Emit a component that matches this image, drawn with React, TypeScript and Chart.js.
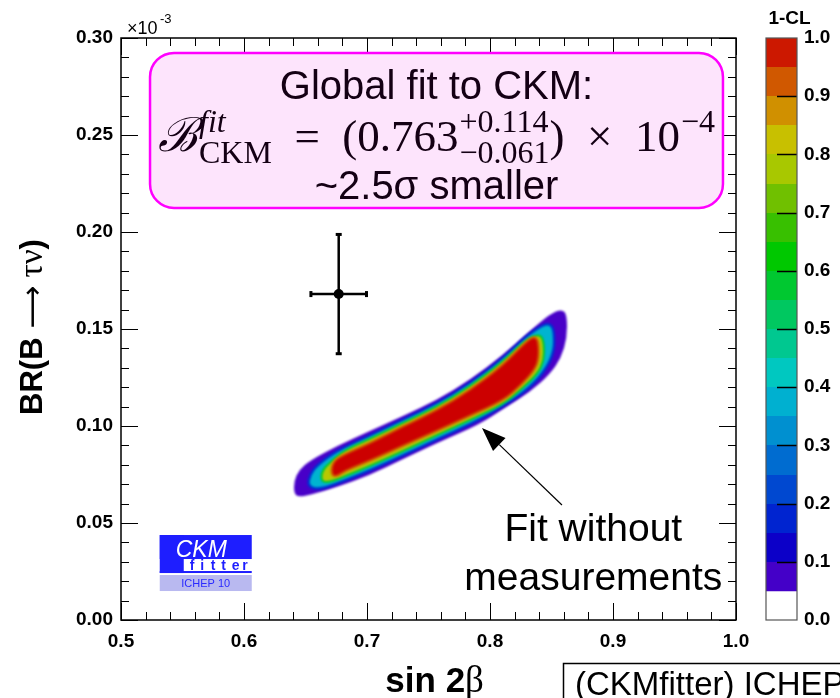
import { useEffect, useRef } from 'react';
import { Chart, registerables } from 'chart.js';

Chart.register(...registerables);

// ---------------- data ----------------
const xMajorTicks = [0.5, 0.6, 0.7, 0.8, 0.9, 1.0];
const yMajorTicks = [0.0, 0.05, 0.1, 0.15, 0.2, 0.25, 0.3];
const colorbarTicks = [0.0, 0.1, 0.2, 0.3, 0.4, 0.5, 0.6, 0.7, 0.8, 0.9, 1.0];

// measurement: sin2beta and BR(B -> tau nu) (x 1e-3)
const measSin2b = [0.677];
const measSin2bErr = [0.023];
const measBR = [0.168];
const measBRErr = [0.031];

// 1-CL contours of the fit without measurements (sin2beta, BR x 1e-3)
const cl005X = [0.6407, 0.6407, 0.6447, 0.6537, 0.6756, 0.7024, 0.7293, 0.7569, 0.7837, 0.8106, 0.8325, 0.8488, 0.8585, 0.8626, 0.8626, 0.8577, 0.8488, 0.8325, 0.8106, 0.7919, 0.7569, 0.7293, 0.7024, 0.6756, 0.6537, 0.6439];
const cl005Y = [0.0655, 0.0716, 0.0773, 0.0822, 0.0897, 0.0974, 0.1051, 0.1134, 0.1237, 0.1366, 0.1490, 0.1577, 0.1603, 0.1572, 0.1454, 0.1351, 0.1268, 0.1175, 0.1088, 0.1010, 0.0912, 0.0830, 0.0747, 0.0686, 0.0644, 0.0634];

const cl030X = [0.6528, 0.6545, 0.6602, 0.6756, 0.7024, 0.7293, 0.7569, 0.7837, 0.8106, 0.8301, 0.8447, 0.8496, 0.8512, 0.8512, 0.8455, 0.8325, 0.8106, 0.7837, 0.7569, 0.7293, 0.7024, 0.6780, 0.6618];
const cl030Y = [0.0691, 0.0747, 0.0794, 0.0866, 0.0943, 0.1026, 0.1108, 0.1211, 0.1340, 0.1459, 0.1521, 0.1515, 0.1474, 0.1392, 0.1304, 0.1206, 0.1108, 0.1015, 0.0938, 0.0856, 0.0778, 0.0716, 0.0680];

const cl070X = [0.6634, 0.6642, 0.6707, 0.6821, 0.7024, 0.7293, 0.7569, 0.7837, 0.8106, 0.8276, 0.8374, 0.8415, 0.8431, 0.8431, 0.8382, 0.8244, 0.8106, 0.7837, 0.7569, 0.7293, 0.7024, 0.6821, 0.6699];
const cl070Y = [0.0716, 0.0768, 0.0809, 0.0871, 0.0928, 0.1010, 0.1093, 0.1196, 0.1325, 0.1428, 0.1464, 0.1459, 0.1418, 0.1340, 0.1273, 0.1191, 0.1119, 0.1036, 0.0959, 0.0876, 0.0799, 0.0747, 0.0716];

const cl095X = [0.6715, 0.6724, 0.6797, 0.7024, 0.7293, 0.7569, 0.7837, 0.8106, 0.8301, 0.8366, 0.8390, 0.8390, 0.8350, 0.8244, 0.8106, 0.7837, 0.7569, 0.7293, 0.7024, 0.6821, 0.6748];
const cl095Y = [0.0753, 0.0809, 0.0845, 0.0907, 0.0995, 0.1077, 0.1180, 0.1309, 0.1436, 0.1459, 0.1428, 0.1340, 0.1284, 0.1211, 0.1134, 0.1057, 0.0979, 0.0902, 0.0825, 0.0773, 0.0742];

// colour palette of 1-CL (lower edge of each band)
const paletteLevels = [0.05, 0.1, 0.15, 0.2, 0.25, 0.3, 0.35, 0.4, 0.45, 0.5, 0.55, 0.6, 0.65, 0.7, 0.75, 0.8, 0.85, 0.9, 0.95];
const paletteColors = ['#4400c8', '#0c00c8', '#0024d0', '#0048d0', '#006cd0', '#0090d0', '#00b0d0', '#00c8c0', '#00c890', '#00c860', '#00c830', '#00c800', '#38c000', '#70c000', '#a8c800', '#c8c000', '#d09000', '#d05800', '#cc1800'];

// ---------------- helpers ----------------
const SANS = "'Liberation Sans', Arial, Helvetica, sans-serif";
const SERIF = "'Liberation Serif', 'DejaVu Serif', serif";
const sansBold = (size: number) => ({ family: SANS, size, weight: 'bold' as const });

function smoothPath(ctx: CanvasRenderingContext2D, pts: number[][]) {
  const n = pts.length;
  const mid = (a: number[], b: number[]) => [(a[0] + b[0]) / 2, (a[1] + b[1]) / 2];
  ctx.beginPath();
  const m0 = mid(pts[n - 1], pts[0]);
  ctx.moveTo(m0[0], m0[1]);
  for (let i = 0; i < n; i++) {
    const p = pts[i];
    const m = mid(p, pts[(i + 1) % n]);
    ctx.quadraticCurveTo(p[0], p[1], m[0], m[1]);
  }
  ctx.closePath();
}

const contourPlugin = {
  id: 'contour',
  beforeDatasetsDraw(chart: any) {
    const { ctx, chartArea, scales } = chart;
    const { x, y } = scales;
    const toPx = (xs: number[], ys: number[]) => xs.map((v, i) => [x.getPixelForValue(v), y.getPixelForValue(ys[i])]);
    const o = toPx(cl005X, cl005Y);
    const l2 = toPx(cl030X, cl030Y);
    const l3 = toPx(cl070X, cl070Y);
    const r = toPx(cl095X, cl095Y);
    ctx.save();
    ctx.beginPath();
    ctx.rect(chartArea.left, chartArea.top, chartArea.right - chartArea.left, chartArea.bottom - chartArea.top);
    ctx.clip();
    ctx.filter = 'blur(0.8px)';
    ctx.lineJoin = 'round';
    smoothPath(ctx, o); ctx.fillStyle = '#4800c8'; ctx.fill();
    smoothPath(ctx, l2); ctx.strokeStyle = '#0030d0'; ctx.lineWidth = 5; ctx.stroke();
    ctx.fillStyle = '#00b4d0'; ctx.fill();
    smoothPath(ctx, l3); ctx.strokeStyle = '#00c830'; ctx.lineWidth = 4; ctx.stroke();
    ctx.fillStyle = '#b8c800'; ctx.fill();
    smoothPath(ctx, r); ctx.strokeStyle = '#d07000'; ctx.lineWidth = 4; ctx.stroke();
    ctx.fillStyle = '#cc0000'; ctx.fill();
    ctx.restore();
  },
};

const errorPlugin = {
  id: 'errbars',
  beforeDatasetsDraw(chart: any) {
    const { ctx, scales } = chart;
    const { x, y } = scales;
    ctx.save();
    ctx.strokeStyle = '#000';
    ctx.fillStyle = '#000';
    ctx.lineWidth = 2.5;
    measSin2b.forEach((xv, i) => {
      const px = x.getPixelForValue(xv);
      const py = y.getPixelForValue(measBR[i]);
      const x1 = x.getPixelForValue(xv - measSin2bErr[i]);
      const x2 = x.getPixelForValue(xv + measSin2bErr[i]);
      const y1 = y.getPixelForValue(measBR[i] + measBRErr[i]);
      const y2 = y.getPixelForValue(measBR[i] - measBRErr[i]);
      ctx.beginPath();
      ctx.moveTo(x1, py); ctx.lineTo(x2, py);
      ctx.moveTo(px, y1); ctx.lineTo(px, y2);
      ctx.stroke();
      ctx.fillRect(x1 - 1, py - 3, 3, 6);
      ctx.fillRect(x2 - 2, py - 3, 3, 6);
      ctx.fillRect(px - 3, y1 - 1, 6, 3);
      ctx.fillRect(px - 3, y2 - 2, 6, 3);
    });
    ctx.restore();
  },
};

function subdivide(major: number[], n: number) {
  const out: number[] = [];
  for (let i = 0; i < major.length - 1; i++) {
    for (let k = 1; k < n; k++) out.push(major[i] + ((major[i + 1] - major[i]) * k) / n);
  }
  return out;
}

const framePlugin = {
  id: 'frame',
  afterDatasetsDraw(chart: any) {
    const { ctx, chartArea, scales } = chart;
    const { left, right, top, bottom } = chartArea;
    const { x, y } = scales;
    ctx.save();
    ctx.strokeStyle = '#000';
    ctx.lineWidth = 1;
    const majL = 17, minL = 8;
    ctx.beginPath();
    const xt = (v: number, len: number) => {
      const p = Math.round(x.getPixelForValue(v)) + 0.5;
      ctx.moveTo(p, bottom); ctx.lineTo(p, bottom - len);
      ctx.moveTo(p, top); ctx.lineTo(p, top + len);
    };
    const yt = (v: number, len: number) => {
      const p = Math.round(y.getPixelForValue(v)) + 0.5;
      ctx.moveTo(left, p); ctx.lineTo(left + len, p);
      ctx.moveTo(right, p); ctx.lineTo(right - len, p);
    };
    xMajorTicks.forEach((v) => xt(v, majL));
    subdivide(xMajorTicks, 5).forEach((v) => xt(v, minL));
    yMajorTicks.forEach((v) => yt(v, majL));
    subdivide(yMajorTicks, 5).forEach((v) => yt(v, minL));
    ctx.stroke();
    ctx.lineWidth = 1.5;
    ctx.strokeRect(left, top, right - left, bottom - top);
    ctx.restore();
  },
};

function drawMath(ctx: CanvasRenderingContext2D, cx: number, base: number) {
  const big = 45, small = 32;
  const F = (s: number, it = false) => `${it ? 'italic ' : ''}${s}px ${SERIF}`;
  type P = { t?: string; f?: string; sup?: string; sub?: string; fs?: string; fb?: string; gap?: number };
  const pieces: P[] = [
    { t: 'ℬ', f: F(big + 2, true) },
    { sup: 'fit', sub: 'CKM', fs: F(small, true), fb: F(small), gap: 2 },
    { t: '  =  ', f: F(big) },
    { t: '(0.763', f: F(big) },
    { sup: '+0.114', sub: '−0.061', fs: F(small), fb: F(small), gap: 1 },
    { t: ')  ×  10', f: F(big) },
    { sup: '−4', fs: F(small), gap: 1 },
  ];
  const widths = pieces.map((p) => {
    if (p.t) { ctx.font = p.f!; return ctx.measureText(p.t).width; }
    let w = 0;
    if (p.sup) { ctx.font = p.fs!; w = Math.max(w, ctx.measureText(p.sup).width); }
    if (p.sub) { ctx.font = p.fb!; w = Math.max(w, ctx.measureText(p.sub).width); }
    return w + (p.gap || 0);
  });
  const total = widths.reduce((a, b) => a + b, 0);
  let xpos = cx - total / 2;
  ctx.textAlign = 'left';
  ctx.textBaseline = 'alphabetic';
  pieces.forEach((p, i) => {
    if (p.t) { ctx.font = p.f!; ctx.fillText(p.t, xpos, base); }
    else {
      const g = p.gap || 0;
      if (p.sup) { ctx.font = p.fs!; ctx.fillText(p.sup, xpos + g, base - 19); }
      if (p.sub) { ctx.font = p.fb!; ctx.fillText(p.sub, xpos + g, base + 12); }
    }
    xpos += widths[i];
  });
}

function drawPieces(ctx: CanvasRenderingContext2D, pieces: { t: string; f: string }[], cx: number, base: number) {
  const ws = pieces.map((p) => { ctx.font = p.f; return ctx.measureText(p.t).width; });
  let xp = cx - ws.reduce((a, b) => a + b, 0) / 2;
  ctx.textAlign = 'left';
  ctx.textBaseline = 'alphabetic';
  pieces.forEach((p, i) => { ctx.font = p.f; ctx.fillText(p.t, xp, base); xp += ws[i]; });
}

const annotPlugin = {
  id: 'annot',
  afterDraw(chart: any) {
    const { ctx, scales, chartArea } = chart;
    const { x, y } = scales;
    ctx.save();
    ctx.fillStyle = '#000';

    // axis titles
    drawPieces(ctx, [
      { t: 'sin 2', f: `bold 35px ${SANS}` },
      { t: 'β', f: `37px ${SERIF}` },
    ], x.getPixelForValue(0.755), 692);
    ctx.save();
    ctx.translate(42, (chartArea.top + chartArea.bottom) / 2 - 2);
    ctx.rotate(-Math.PI / 2);
    drawPieces(ctx, [
      { t: 'BR(B ', f: `bold 31px ${SANS}` },
      { t: '⟶', f: `30px 'DejaVu Sans', sans-serif` },
      { t: ' τν', f: `33px ${SERIF}` },
      { t: ')', f: `bold 31px ${SANS}` },
    ], 0, 0);
    ctx.restore();

    // x10^-3
    ctx.textAlign = 'left';
    ctx.font = `18px ${SANS}`;
    ctx.fillText('×10', 127, 34);
    ctx.font = `13px ${SANS}`;
    ctx.fillText('-3', 160, 23);

    // pink box
    const bx1 = x.getPixelForValue(0.5236), bx2 = x.getPixelForValue(0.9894);
    const by1 = y.getPixelForValue(0.2923), by2 = y.getPixelForValue(0.2124);
    ctx.beginPath();
    (ctx as any).roundRect(bx1, by1, bx2 - bx1, by2 - by1, 24);
    ctx.fillStyle = '#fde4fc';
    ctx.fill();
    ctx.strokeStyle = '#ff00ff';
    ctx.lineWidth = 2.5;
    ctx.stroke();
    const cx = (bx1 + bx2) / 2;
    ctx.fillStyle = '#140014';
    ctx.textAlign = 'center';
    ctx.font = `40px ${SANS}`;
    ctx.fillText('Global fit to CKM:', cx, by1 + 46);
    ctx.fillText('~2.5σ smaller', cx, by2 - 9);
    drawMath(ctx, cx, by1 + 98);

    // arrow
    const ax1 = x.getPixelForValue(0.8585), ay1 = y.getPixelForValue(0.0593);
    const ax2 = x.getPixelForValue(0.7935), ay2 = y.getPixelForValue(0.099);
    const ang = Math.atan2(ay2 - ay1, ax2 - ax1);
    const hl = 24, hw = 9;
    const bxh = ax2 - hl * Math.cos(ang), byh = ay2 - hl * Math.sin(ang);
    ctx.strokeStyle = '#000';
    ctx.lineWidth = 1.2;
    ctx.beginPath(); ctx.moveTo(ax1, ay1); ctx.lineTo(bxh, byh); ctx.stroke();
    ctx.beginPath();
    ctx.moveTo(ax2, ay2);
    ctx.lineTo(bxh + hw * Math.sin(ang), byh - hw * Math.cos(ang));
    ctx.lineTo(bxh - hw * Math.sin(ang), byh + hw * Math.cos(ang));
    ctx.closePath();
    ctx.fillStyle = '#000';
    ctx.fill();

    // fit label
    ctx.font = `39px ${SANS}`;
    ctx.textAlign = 'center';
    const tx = x.getPixelForValue(0.884);
    ctx.fillText('Fit without', tx, y.getPixelForValue(0.0405));
    ctx.fillText('measurements', tx, y.getPixelForValue(0.0153));

    // CKMfitter logo
    const lx = x.getPixelForValue(0.5315), ly = y.getPixelForValue(0.0438);
    ctx.fillStyle = '#1e1eff';
    ctx.fillRect(lx, ly, 92, 24);
    ctx.fillRect(lx, ly, 24, 38);
    ctx.fillRect(lx, ly + 36, 92, 2);
    ctx.fillStyle = '#fff';
    ctx.font = `italic 23px ${SANS}`;
    ctx.textAlign = 'left';
    ctx.fillText('CKM', lx + 16, ly + 22);
    ctx.fillStyle = '#1e1eff';
    ctx.font = `bold 14px ${SANS}`;
    'fitter'.split('').forEach((c, i) => ctx.fillText(c, lx + 30 + i * 10.5, ly + 35));
    ctx.fillStyle = '#b9b9f0';
    ctx.fillRect(lx, ly + 40, 92, 16);
    ctx.fillStyle = '#2a2aff';
    ctx.font = `11px ${SANS}`;
    ctx.textAlign = 'center';
    ctx.fillText('ICHEP 10', lx + 46, ly + 52);

    // footer box
    ctx.strokeStyle = '#000';
    ctx.lineWidth = 1.5;
    ctx.strokeRect(563.5, 663.5, 320, 60);
    ctx.fillStyle = '#000';
    ctx.textAlign = 'left';
    ctx.font = `33px ${SANS}`;
    ctx.fillText('(CKMfitter) ICHEP 10', 575, 695);
    ctx.restore();
  },
};

const colorbarPlugin = {
  id: 'cbar',
  afterDatasetsDraw(chart: any) {
    const { ctx, chartArea, scales } = chart;
    const { left, right, top, bottom } = chartArea;
    const y = scales.y;
    ctx.save();
    ctx.strokeStyle = '#000';
    ctx.lineWidth = 1.5;
    ctx.beginPath();
    colorbarTicks.slice(1, -1).forEach((v) => {
      const p = Math.round(y.getPixelForValue(v)) + 0.5;
      ctx.moveTo(right, p);
      ctx.lineTo(right - 20, p);
    });
    ctx.stroke();
    ctx.strokeStyle = '#555';
    ctx.lineWidth = 1.2;
    ctx.strokeRect(left, top, right - left, bottom - top);
    ctx.fillStyle = '#000';
    ctx.font = `bold 19px ${SANS}`;
    ctx.textAlign = 'center';
    ctx.textBaseline = 'alphabetic';
    ctx.fillText('1-CL', (left + right) / 2 + 8, 24);
    ctx.restore();
  },
};

export default function App() {
  const mainRef = useRef<HTMLCanvasElement>(null);
  const cbRef = useRef<HTMLCanvasElement>(null);

  useEffect(() => {
    const main = new Chart(mainRef.current!, {
      type: 'scatter',
      data: {
        datasets: [
          {
            data: measSin2b.map((v, i) => ({ x: v, y: measBR[i] })),
            pointRadius: 5,
            pointBackgroundColor: '#000',
            pointBorderWidth: 0,
            showLine: false,
          },
        ],
      },
      options: {
        responsive: false,
        maintainAspectRatio: false,
        animation: false,
        events: [],
        layout: { padding: { left: 0, top: 38, right: 104, bottom: 0 } },
        plugins: { legend: { display: false }, tooltip: { enabled: false } },
        scales: {
          x: {
            type: 'linear',
            min: 0.5,
            max: 1.0,
            afterBuildTicks: (s: any) => { s.ticks = xMajorTicks.map((v) => ({ value: v })); },
            afterFit: (s: any) => { s.height = 78; },
            grid: { display: false, drawTicks: false },
            border: { display: false },
            ticks: {
              autoSkip: false,
              maxRotation: 0,
              color: '#000',
              font: sansBold(19),
              padding: 10,
              callback: (v: any) => Number(v).toFixed(1),
            },
          },
          y: {
            type: 'linear',
            min: 0,
            max: 0.3,
            afterBuildTicks: (s: any) => { s.ticks = yMajorTicks.map((v) => ({ value: v })); },
            afterFit: (s: any) => { s.width = 121; },
            grid: { display: false, drawTicks: false },
            border: { display: false },
            ticks: {
              autoSkip: false,
              color: '#000',
              font: sansBold(19),
              padding: 8,
              callback: (v: any) => Number(v).toFixed(2),
            },
          },
        },
      } as any,
      plugins: [contourPlugin, errorPlugin, framePlugin, annotPlugin],
    });

    const cb = new Chart(cbRef.current!, {
      type: 'bar',
      data: {
        labels: ['1-CL'],
        datasets: [
          {
            data: [[paletteLevels[0], 1.0]] as any,
            barPercentage: 1,
            categoryPercentage: 1,
            borderWidth: 0,
            backgroundColor: (c: any) => {
              const ch = c.chart;
              if (!ch.chartArea) return '#888';
              const ys = ch.scales.y;
              const g = ch.ctx.createLinearGradient(0, ys.getPixelForValue(0), 0, ys.getPixelForValue(1));
              paletteLevels.forEach((lv, i) => {
                const hi = i + 1 < paletteLevels.length ? paletteLevels[i + 1] : 1.0;
                g.addColorStop(lv, paletteColors[i]);
                g.addColorStop(Math.max(lv, hi - 0.0001), paletteColors[i]);
              });
              return g;
            },
          },
        ],
      },
      options: {
        responsive: false,
        maintainAspectRatio: false,
        animation: false,
        events: [],
        layout: { padding: { left: 26, top: 38, right: 0, bottom: 78 } },
        plugins: { legend: { display: false }, tooltip: { enabled: false } },
        scales: {
          x: { type: 'category', display: false },
          y: {
            position: 'right',
            min: 0,
            max: 1,
            afterBuildTicks: (s: any) => { s.ticks = colorbarTicks.map((v) => ({ value: v })); },
            afterFit: (s: any) => { s.width = 43; },
            grid: { display: false, drawTicks: false },
            border: { display: false },
            ticks: {
              autoSkip: false,
              color: '#000',
              font: sansBold(19),
              padding: 7,
              callback: (v: any) => Number(v).toFixed(1),
            },
          },
        },
      } as any,
      plugins: [colorbarPlugin],
    });

    return () => {
      main.destroy();
      cb.destroy();
    };
  }, []);

  return (
    <div style={{ position: 'fixed', left: 0, top: 0, width: 840, height: 698, background: '#fff', overflow: 'hidden' }}>
      <canvas ref={mainRef} width={840} height={698} style={{ position: 'absolute', left: 0, top: 0 }} />
      <canvas ref={cbRef} width={100} height={698} style={{ position: 'absolute', left: 740, top: 0 }} />
    </div>
  );
}
